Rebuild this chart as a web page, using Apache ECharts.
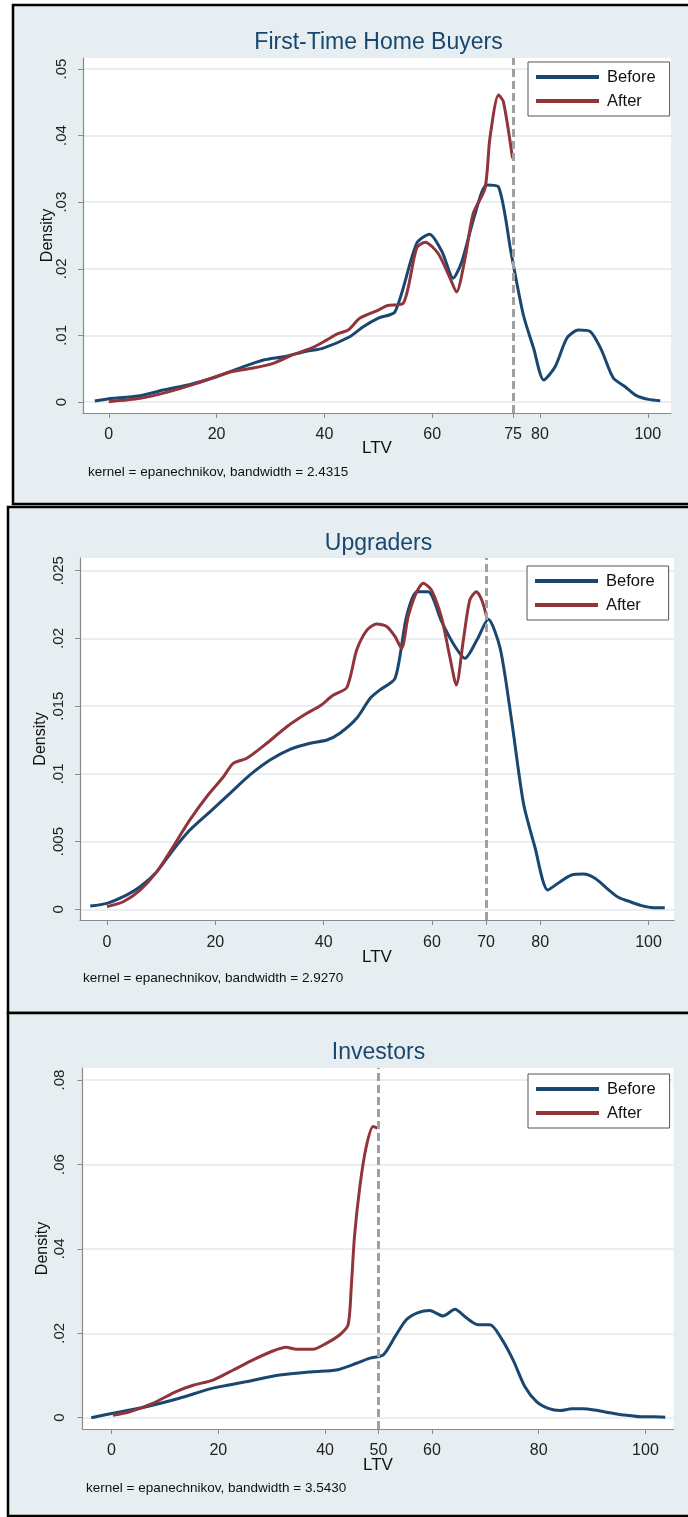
<!DOCTYPE html>
<html>
<head>
<meta charset="utf-8">
<script src="https://cdn.jsdelivr.net/npm/echarts@6/dist/echarts.min.js"></script>
<style>
html,body{margin:0;padding:0;background:#ffffff;}
#chart{width:688px;height:1517px;}
</style>
</head>
<body>
<div id="chart"></div>
<script>
// ---------- Data ----------
// Panel 1: First-Time Home Buyers
const ftbBeforeX = [-2.6,0.8,5.8,10.1,15.1,20.0,24.3,28.7,32.4,36.7,39.8,44.7,47.2,50.0,53.1,57.1,59.5,61.8,63.9,65.5,67.9,70.1,72.3,74.7,76.9,78.8,80.7,82.8,85.0,87.1,89.3,91.4,93.6,95.8,97.9,100.1,102.3];
const ftbBeforeY = [0.00015,0.00055,0.00095,0.0018,0.00265,0.0038,0.0051,0.0063,0.0068,0.0076,0.0081,0.0098,0.0113,0.0126,0.01356,0.0238,0.0252,0.0226,0.0186,0.0211,0.0281,0.0326,0.0323,0.0221,0.0131,0.0081,0.0033,0.0053,0.0096,0.0108,0.0106,0.0078,0.0036,0.0023,0.00095,0.0004,0.0002];
const ftbAfterX = [0.0,5.8,10.7,16.3,22.5,26.8,30.5,34.2,37.9,40.4,42.3,44.4,46.6,50.0,51.6,54.6,57.1,58.7,61.1,63.3,64.5,66.1,67.6,69.8,70.7,72.3,73.2,74.9];
const ftbAfterY = [0.00005,0.00055,0.00145,0.0028,0.0045,0.0051,0.0058,0.0071,0.0082,0.0093,0.0102,0.0108,0.0126,0.0138,0.01446,0.0148,0.0231,0.0240,0.0223,0.0186,0.0165,0.0216,0.0283,0.0321,0.0396,0.0461,0.0451,0.0366];
const ftbXTicks = [0,20,40,60,75,80,100];
const ftbYTicks = [0,0.01,0.02,0.03,0.04,0.05];
const ftbCutoff = 75;

// Panel 2: Upgraders
const upgBeforeX = [-3.1,0,3.0,6.1,9.2,12.2,15.3,19.0,22.7,26.4,30.1,33.8,37.5,40.6,43.0,46.1,48.6,50.4,53.2,55.3,57.2,59.3,61.8,63.9,66.1,68.3,70.4,72.6,74.7,76.9,79.0,81.4,83.7,85.8,88.0,90.1,92.3,94.4,96.6,98.7,100.9,103.0];
const upgBeforeY = [0.00024,0.00044,0.00093,0.00167,0.00278,0.00438,0.00585,0.0072,0.00856,0.00992,0.01102,0.01181,0.01226,0.0125,0.013,0.0141,0.01558,0.0162,0.01706,0.0216,0.02345,0.02345,0.02124,0.01964,0.01853,0.01988,0.02141,0.01927,0.01398,0.00783,0.00462,0.00143,0.00204,0.00253,0.0026,0.00229,0.00155,0.00089,0.00056,0.00027,0.00012,0.00012];
const upgAfterX = [0,3.0,6.1,9.2,12.2,15.3,18.4,21.5,23.3,25.8,29.5,33.2,36.9,39.3,41.8,44.3,46.1,48.0,49.8,51.7,53.2,54.4,55.6,57.2,58.4,59.9,61.8,63.3,64.5,65.8,67.0,68.2,69.2,70.1];
const upgAfterY = [0.0002,0.00056,0.00142,0.00278,0.00462,0.0066,0.00831,0.00979,0.01078,0.01115,0.01226,0.01348,0.01447,0.01501,0.01582,0.01639,0.01914,0.02062,0.02107,0.02087,0.02013,0.01927,0.0216,0.02345,0.02407,0.02358,0.02149,0.01865,0.01656,0.01988,0.02284,0.02345,0.02284,0.0216];
const upgXTicks = [0,20,40,60,70,80,100];
const upgYTicks = [0,0.005,0.01,0.015,0.02,0.025];
const upgCutoff = 70;

// Panel 3: Investors
const invBeforeX = [-3.8,0.25,6.5,12.7,19.0,25.2,31.5,37.7,42.1,45.9,48.4,50.9,53.1,55.2,57.4,59.6,62.1,64.3,66.5,68.7,70.9,73.0,75.2,77.4,79.6,81.8,84.0,86.2,88.4,90.5,92.7,94.9,97.1,99.3,101.5,103.7];
const invBeforeY = [0.0,0.00104,0.0026,0.0046,0.0070,0.0085,0.0101,0.0109,0.0113,0.0129,0.0141,0.0149,0.0192,0.0232,0.0249,0.0254,0.0241,0.0257,0.0236,0.0220,0.0220,0.0188,0.0137,0.0074,0.0038,0.0022,0.0017,0.0021,0.0021,0.0018,0.0013,0.0008,0.0005,0.0002,0.0002,0.0001];
const invAfterX = [0.25,3.4,7.7,12.1,15.3,19.0,22.8,26.5,30.2,32.7,34.6,37.7,40.2,42.7,44.3,44.9,45.5,46.5,47.7,49.0,49.8];
const invAfterY = [0.0006,0.0014,0.0034,0.0062,0.0077,0.0089,0.0113,0.0137,0.0158,0.0167,0.0162,0.0162,0.0176,0.0196,0.0220,0.0310,0.0429,0.0547,0.0642,0.0690,0.0686];
const invXTicks = [0,20,40,50,60,80,100];
const invYTicks = [0,0.02,0.04,0.06,0.08];
const invCutoff = 50;

const panelTitles = ['First-Time Home Buyers','Upgraders','Investors'];
const panelNotes = ['kernel = epanechnikov, bandwidth = 2.4315','kernel = epanechnikov, bandwidth = 2.9270','kernel = epanechnikov, bandwidth = 3.5430'];
const seriesNames = ['Before','After'];

// ---------- Styling / layout ----------
const NAVY = '#1a476f';
const MAROON = '#90353b';
const BG = '#e6eef1';
const FONT = '"Liberation Sans", Arial, sans-serif';

function zip(xs, ys){ return xs.map((x,i)=>[x, ys[i]]); }
function fmtY(v){ return v === 0 ? '0' : String(v).replace(/^0/, ''); }

const panels = [
  {grid:{left:83, top:58, width:588, height:355}, xmin:-4.79, xmax:104.3, ymin:-0.00165, ymax:0.05165,
   xTicks:ftbXTicks, yTicks:ftbYTicks, cut:ftbCutoff, before:zip(ftbBeforeX,ftbBeforeY), after:zip(ftbAfterX,ftbAfterY),
   yMargin:14, yNameGap:27.5, xMargin:14, xNameGap:27,
   frame:{x:13,y:5,w:680,h:499}, titleY:43, noteX:88, noteY:472, legend:{left:528, top:62}},
  {grid:{left:80, top:558, width:594, height:362}, xmin:-4.99, xmax:104.7, ymin:-0.00079, ymax:0.02594,
   xTicks:upgXTicks, yTicks:upgYTicks, cut:upgCutoff, before:zip(upgBeforeX,upgBeforeY), after:zip(upgAfterX,upgAfterY),
   yMargin:13.5, yNameGap:31, xMargin:14.5, xNameGap:28.5,
   frame:{x:8,y:507,w:685,h:506}, titleY:544, noteX:83, noteY:978, legend:{left:527, top:566}},
  {grid:{left:82.5, top:1068, width:591, height:361}, xmin:-5.44, xmax:105.25, ymin:-0.00268, ymax:0.08287,
   xTicks:invXTicks, yTicks:invYTicks, cut:invCutoff, before:zip(invBeforeX,invBeforeY), after:zip(invAfterX,invAfterY),
   yMargin:15, yNameGap:31.5, xMargin:14, xNameGap:27.5,
   frame:{x:8,y:1013,w:685,h:503}, titleY:1053, noteX:86, noteY:1488, legend:{left:528, top:1074}}
];

const grids=[], xAxes=[], yAxes=[], series=[], legends=[], graphics=[];
panels.forEach((p, i) => {
  grids.push(Object.assign({show:true, backgroundColor:'#ffffff', borderWidth:0, containLabel:false}, p.grid));
  xAxes.push({
    type:'value', gridIndex:i, min:p.xmin, max:p.xmax,
    name:'LTV', nameLocation:'middle', nameGap:p.xNameGap, nameMoveOverlap:false,
    nameTextStyle:{fontFamily:FONT, fontSize:17, color:'#111'},
    axisLine:{show:true, onZero:false, lineStyle:{color:'#8a8a8a', width:1.2}},
    axisTick:{show:true, length:5, customValues:p.xTicks, lineStyle:{color:'#8a8a8a'}},
    axisLabel:{customValues:p.xTicks, margin:p.xMargin, fontFamily:FONT, fontSize:16, color:'#222'},
    splitLine:{show:false}
  });
  yAxes.push({
    type:'value', gridIndex:i, min:p.ymin, max:p.ymax,
    name:'Density', nameLocation:'middle', nameGap:p.yNameGap, nameRotate:90, nameMoveOverlap:false,
    nameTextStyle:{fontFamily:FONT, fontSize:16, color:'#111'},
    axisLine:{show:true, onZero:false, lineStyle:{color:'#8a8a8a', width:1.2}},
    axisTick:{show:true, length:5, customValues:p.yTicks, lineStyle:{color:'#8a8a8a'}},
    axisLabel:{customValues:p.yTicks, rotate:90, margin:p.yMargin, fontFamily:FONT, fontSize:15, color:'#222', formatter:fmtY},
    splitLine:{show:true, lineStyle:{color:'#e3e9ed', width:1.5}}
  });
  series.push({
    name:seriesNames[0], type:'line', xAxisIndex:i, yAxisIndex:i, data:p.before,
    showSymbol:false, symbol:'none', smooth:0.25, z:3,
    lineStyle:{color:NAVY, width:3}, itemStyle:{color:NAVY},
    markLine:{silent:true, symbol:['none','none'], label:{show:false},
      lineStyle:{color:'#a0a0a0', width:3, type:[8,4]}, data:[{xAxis:p.cut}], z:5}
  });
  series.push({
    name:seriesNames[1], type:'line', xAxisIndex:i, yAxisIndex:i, data:p.after,
    showSymbol:false, symbol:'none', smooth:0.25, z:4,
    lineStyle:{color:MAROON, width:3}, itemStyle:{color:MAROON}
  });
  legends.push({
    data:seriesNames, orient:'vertical', left:p.legend.left, top:p.legend.top,
    icon:'rect', itemWidth:63, itemHeight:4, itemGap:6,
    padding:[6,14,6,8], backgroundColor:'#ffffff', borderColor:'#555', borderWidth:1, borderRadius:0,
    textStyle:{fontFamily:FONT, fontSize:16.5, color:'#111', lineHeight:18, padding:[0,0,0,3]},
    selectedMode:false
  });
  graphics.push({type:'rect', z:-100, shape:{x:p.frame.x, y:p.frame.y, width:p.frame.w, height:p.frame.h},
    style:{fill:BG, stroke:'#000', lineWidth:2.5}});
  graphics.push({type:'text', z:100, x:378.5, y:p.titleY,
    style:{text:panelTitles[i], fill:NAVY, font:'23px ' + FONT, textAlign:'center', textVerticalAlign:'middle'}});
  graphics.push({type:'text', z:100, x:p.noteX, y:p.noteY,
    style:{text:panelNotes[i], fill:'#111', font:'13.5px ' + FONT, textAlign:'left', textVerticalAlign:'middle'}});
});

const chart = echarts.init(document.getElementById('chart'), null, {renderer:'canvas'});
chart.setOption({
  animation:false,
  backgroundColor:'#ffffff',
  grid:grids, xAxis:xAxes, yAxis:yAxes, series:series, legend:legends,
  graphic:{elements:graphics}
});
</script>
</body>
</html>
